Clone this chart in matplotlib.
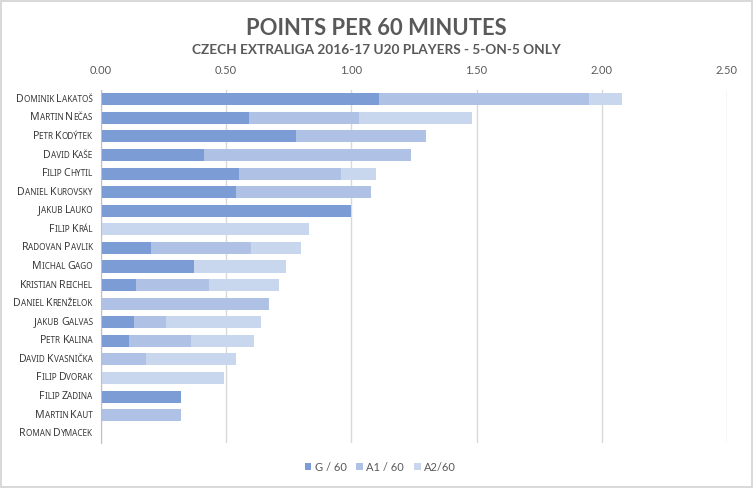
import matplotlib
matplotlib.use("Agg")
import matplotlib.pyplot as plt
from matplotlib.offsetbox import TextArea, HPacker, AnnotationBbox
from matplotlib.patches import Patch

plt.rcParams['font.family'] = ['Lato', 'DejaVu Sans']

players = ["Dominik Lakatoš", "Martin Nečas", "Petr Kodýtek", "David Kaše",
           "Filip Chytil", "Daniel Kurovsky", "Jakub Lauko", "Filip Král",
           "Radovan Pavlik", "Michal Gago", "Kristian Reichel",
           "Daniel Krenželok", "Jakub Galvas", "Petr Kalina",
           "David Kvasnička", "Filip Dvorak", "Filip Zadina", "Martin Kaut",
           "Roman Dymacek"]
g60 = [1.11, 0.59, 0.78, 0.41, 0.55, 0.54, 1.00, 0.00, 0.20, 0.37, 0.14,
       0.00, 0.13, 0.11, 0.00, 0.00, 0.32, 0.00, 0.00]
a1_60 = [0.84, 0.44, 0.52, 0.83, 0.41, 0.54, 0.00, 0.00, 0.40, 0.00, 0.29,
         0.67, 0.13, 0.25, 0.18, 0.00, 0.00, 0.32, 0.00]
a2_60 = [0.13, 0.45, 0.00, 0.00, 0.14, 0.00, 0.00, 0.83, 0.20, 0.37, 0.28,
         0.00, 0.38, 0.25, 0.36, 0.49, 0.00, 0.00, 0.00]
series_names = ["G / 60", "A1 / 60", "A2/60"]
colors = ["#7C9CD6", "#AFC1E5", "#C9D7EE"]
xticks = [0.0, 0.5, 1.0, 1.5, 2.0, 2.5]

fig = plt.figure(figsize=(7.53, 4.88), dpi=100)
fig.patch.set_edgecolor("#D9D9D9")
fig.patch.set_linewidth(1.5)
ax = fig.add_axes([0.1341, 0.0922, 0.8313, 0.7234])

ypos = list(range(len(players)))
left = [0.0] * len(players)
for vals, name, col in zip([g60, a1_60, a2_60], series_names, colors):
    ax.barh(ypos, vals, left=left, height=0.65, color=col, label=name, zorder=2)
    left = [l + v for l, v in zip(left, vals)]

ax.set_xlim(0, 2.5)
ax.set_ylim(len(players) - 0.5, -0.5)
ax.set_xticks(xticks)
ax.set_xticklabels(["%.2f" % t for t in xticks])
ax.xaxis.tick_top()
ax.tick_params(axis="x", length=0, pad=10, labelsize=8, labelcolor="#595959")
ax.set_yticks(ypos)
ax.set_yticklabels([])
ax.tick_params(axis="y", length=0)
ax.grid(axis="x", color="#D9D9D9", linewidth=1, zorder=0)
for s in ["top", "right", "bottom"]:
    ax.spines[s].set_visible(False)
ax.spines["left"].set_color("#BFBFBF")
ax.spines["left"].set_zorder(3)


def small_caps(label, big=7.6, small=5.9, color="#3A3A3A"):
    # fake small caps: capitals full size, the rest upper-cased and smaller
    parts = []
    cur, cur_big = "", None
    for ch in label:
        is_big = ch.isupper()
        if ch == " ":
            is_big = cur_big if cur_big is not None else False
        if cur_big is None or is_big == cur_big:
            cur += ch
        else:
            parts.append((cur, cur_big))
            cur = ch
        cur_big = is_big
    parts.append((cur, cur_big))
    areas = [TextArea(t.upper(), textprops=dict(size=big if b else small,
                                                color=color,
                                                family="Noto Sans"))
             for t, b in parts]
    return HPacker(children=areas, align="baseline", pad=0, sep=0)


for i, name in enumerate(players):
    ab = AnnotationBbox(small_caps(name), (0, i),
                        xycoords=ax.get_yaxis_transform(),
                        xybox=(-6, 0), boxcoords="offset points",
                        box_alignment=(1, 0.5), frameon=False,
                        annotation_clip=False)
    ax.add_artist(ab)

fig.text(0.5, 0.941, "POINTS PER 60 MINUTES", ha="center", va="center",
         fontsize=15.8, fontweight="bold", color="#595959")
fig.text(0.5, 0.897, "CZECH EXTRALIGA 2016-17 U20 PLAYERS - 5-ON-5 ONLY",
         ha="center", va="center", fontsize=9.8, fontweight="bold",
         color="#595959")

handles = [Patch(facecolor=c, label=n) for c, n in zip(colors, series_names)]
fig.legend(handles=handles, loc="center", bbox_to_anchor=(0.505, 0.043),
           ncol=3, frameon=False, fontsize=8, handlelength=0.6,
           handleheight=0.6, handletextpad=0.3, columnspacing=0.9,
           labelcolor="#595959")

fig.savefig("out.png", dpi=100, edgecolor=fig.get_edgecolor())
